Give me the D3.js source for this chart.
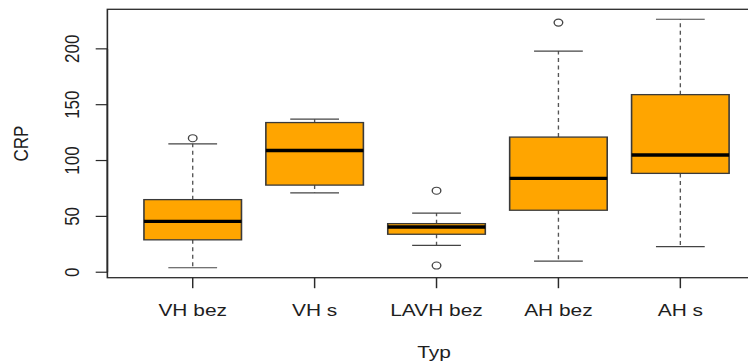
<!DOCTYPE html>
<html>
<head>
<meta charset="utf-8">
<script src="https://cdnjs.cloudflare.com/ajax/libs/d3/7.8.5/d3.min.js"></script>
<style>
	html, body { margin: 0; padding: 0; background: #fff; }
	svg { display: block; }
	text { font-family: "Liberation Sans", Arial, sans-serif; fill: #1e1e1e; }
</style>
</head>
<body>
<div id="chart"></div>
<script>
var categories = ['VH bez', 'VH s', 'LAVH bez', 'AH bez', 'AH s'];
var whiskerLow = [4, 71, 24, 10, 23];
var q1 = [29, 78, 34, 55.5, 88.5];
var median = [45.5, 109, 40.5, 84, 105];
var q3 = [65, 134, 43.5, 121, 159];
var whiskerHigh = [115, 137, 53, 198, 226.5];
var outliers = [[120], [], [73, 6], [223.5], []];
var yTicks = [0, 50, 100, 150, 200];

// the reference is stretched sideways, so draw narrow and let the viewBox widen it
var stretch = 1.23;
var width = 748, height = 362;
var innerW = width / stretch;

var svg = d3.select('#chart')
	.append('svg')
	.attr('width', width)
	.attr('height', height)
	.attr('viewBox', '0 0 ' + innerW + ' ' + height)
	.attr('preserveAspectRatio', 'none');

// note: "top" is taken by window.top, so use plot* names
var plotLeft = 87.3, plotRight = 622.5, plotTop = 9.3, plotBottom = 277.7;

var x = d3.scaleLinear()
	.domain([0.3, categories.length + 0.7])
	.range([plotLeft, plotRight]);

var all = whiskerLow.concat(whiskerHigh, d3.merge(outliers));
var ext = d3.extent(all);
var pad = (ext[1] - ext[0]) * 0.04;
var y = d3.scaleLinear()
	.domain([ext[0] - pad, ext[1] + pad])
	.range([plotBottom, plotTop]);

var boxW = 0.8, stapleW = 0.4;

var data = categories.map(function(c, i){
	return {
		pos : i + 1,
		name : c,
		lo : whiskerLow[i],
		q1 : q1[i],
		med : median[i],
		q3 : q3[i],
		hi : whiskerHigh[i],
		out : outliers[i]
	};
});

var g = svg.selectAll('g.box')
	.data(data)
	.enter()
	.append('g')
	.attr('class', 'box');

//whiskers
g.append('line')
	.attr('x1', function(d){ return x(d.pos); })
	.attr('x2', function(d){ return x(d.pos); })
	.attr('y1', function(d){ return y(d.q3); })
	.attr('y2', function(d){ return y(d.hi); })
	.attr('stroke', '#555').attr('stroke-width', 1.1).attr('stroke-dasharray', '4,3.5');
g.append('line')
	.attr('x1', function(d){ return x(d.pos); })
	.attr('x2', function(d){ return x(d.pos); })
	.attr('y1', function(d){ return y(d.q1); })
	.attr('y2', function(d){ return y(d.lo); })
	.attr('stroke', '#555').attr('stroke-width', 1.1).attr('stroke-dasharray', '4,3.5');

//staples
['lo', 'hi'].forEach(function(k){
	g.append('line')
		.attr('x1', function(d){ return x(d.pos - stapleW / 2); })
		.attr('x2', function(d){ return x(d.pos + stapleW / 2); })
		.attr('y1', function(d){ return y(d[k]); })
		.attr('y2', function(d){ return y(d[k]); })
		.attr('stroke', '#444').attr('stroke-width', 1.2);
});

//boxes
g.append('rect')
	.attr('x', function(d){ return x(d.pos - boxW / 2); })
	.attr('width', function(d){ return x(d.pos + boxW / 2) - x(d.pos - boxW / 2); })
	.attr('y', function(d){ return y(d.q3); })
	.attr('height', function(d){ return y(d.q1) - y(d.q3); })
	.attr('fill', '#ffa500')
	.attr('stroke', '#3a3a3a')
	.attr('stroke-width', 1.3);

//medians
g.append('line')
	.attr('x1', function(d){ return x(d.pos - boxW / 2); })
	.attr('x2', function(d){ return x(d.pos + boxW / 2); })
	.attr('y1', function(d){ return y(d.med); })
	.attr('y2', function(d){ return y(d.med); })
	.attr('stroke', '#000').attr('stroke-width', 3.4);

//outliers
g.selectAll('circle')
	.data(function(d){ return d.out.map(function(v){ return { pos : d.pos, v : v }; }); })
	.enter()
	.append('circle')
	.attr('cx', function(d){ return x(d.pos); })
	.attr('cy', function(d){ return y(d.v); })
	.attr('r', 3.5)
	.attr('fill', 'none')
	.attr('stroke', '#444')
	.attr('stroke-width', 1.1);

//frame
svg.append('rect')
	.attr('x', plotLeft).attr('y', plotTop)
	.attr('width', plotRight - plotLeft).attr('height', plotBottom - plotTop)
	.attr('fill', 'none').attr('stroke', '#2a2a2a').attr('stroke-width', 1.3);

//y axis
var yAxis = svg.append('g').attr('class', 'yaxis');
yAxis.append('line')
	.attr('x1', plotLeft).attr('x2', plotLeft)
	.attr('y1', y(yTicks[0])).attr('y2', y(yTicks[yTicks.length - 1]))
	.attr('stroke', '#2a2a2a').attr('stroke-width', 1.3);
yAxis.selectAll('line.tick')
	.data(yTicks)
	.enter()
	.append('line')
	.attr('class', 'tick')
	.attr('x1', plotLeft - 9.5).attr('x2', plotLeft)
	.attr('y1', function(d){ return y(d); })
	.attr('y2', function(d){ return y(d); })
	.attr('stroke', '#2a2a2a').attr('stroke-width', 1.2);
yAxis.selectAll('text')
	.data(yTicks)
	.enter()
	.append('text')
	.attr('transform', function(d){ return 'translate(64,' + y(d) + ') rotate(-90)'; })
	.attr('text-anchor', 'middle')
	.style('font-size', '17px')
	.text(function(d){ return d; });

//x axis
var xAxis = svg.append('g').attr('class', 'xaxis');
xAxis.selectAll('line')
	.data(data)
	.enter()
	.append('line')
	.attr('x1', function(d){ return x(d.pos); })
	.attr('x2', function(d){ return x(d.pos); })
	.attr('y1', plotBottom).attr('y2', plotBottom + 10.5)
	.attr('stroke', '#2a2a2a').attr('stroke-width', 1.2);
xAxis.selectAll('text')
	.data(data)
	.enter()
	.append('text')
	.attr('x', function(d){ return x(d.pos); })
	.attr('y', 315.7)
	.attr('text-anchor', 'middle')
	.style('font-size', '17px')
	.text(function(d){ return d.name; });

//axis titles
svg.append('text')
	.attr('x', 434 / stretch).attr('y', 358)
	.attr('text-anchor', 'middle')
	.style('font-size', '17px')
	.text('Typ');
svg.append('text')
	.attr('transform', 'translate(23,' + (plotTop + plotBottom) / 2 + ') rotate(-90)')
	.attr('text-anchor', 'middle')
	.style('font-size', '17px')
	.text('CRP');
</script>
</body>
</html>
